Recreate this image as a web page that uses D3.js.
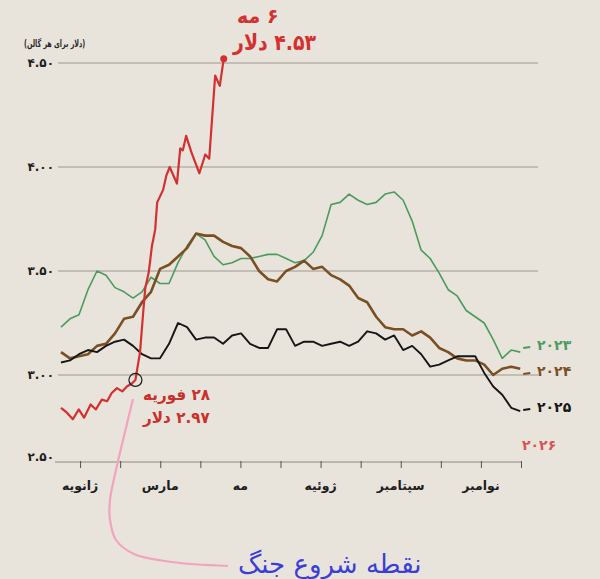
<!DOCTYPE html>
<html><head><meta charset="utf-8">
<script src="https://cdn.jsdelivr.net/npm/d3@7/dist/d3.min.js"></script>
<style>
html,body{margin:0;padding:0;background:#e8e4dc;}
svg{display:block;}
text{font-family:"DejaVu Sans","Noto Sans",sans-serif;}
</style></head><body>
<svg id="chart" width="600" height="579"></svg>
<script>
// ---- data ----
const yTickValues = [2.5, 3.0, 3.5, 4.0, 4.5];
const yTickLabels = ["۲.۵۰", "۳.۰۰", "۳.۵۰", "۴.۰۰", "۴.۵۰"];
const monthLabels = ["ژانویه", "", "مارس", "", "مه", "", "ژوئیه", "", "سپتامبر", "", "نوامبر", ""];
const seriesNames = ["۲۰۲۳", "۲۰۲۴", "۲۰۲۵", "۲۰۲۶"];
const prices2023 = [3.23,3.27,3.29,3.41,3.50,3.48,3.42,3.40,3.37,3.40,3.47,3.44,3.44,3.54,3.62,3.68,3.65,3.57,3.53,3.54,
  3.56,3.56,3.57,3.58,3.58,3.56,3.54,3.55,3.59,3.67,3.82,3.83,3.87,3.84,3.82,3.83,3.87,3.88,3.84,3.74,
  3.60,3.56,3.49,3.41,3.38,3.31,3.28,3.25,3.17,3.08,3.12,3.11];
const prices2024 = [3.11,3.08,3.09,3.10,3.14,3.15,3.20,3.27,3.28,3.35,3.40,3.51,3.53,3.57,3.61,3.68,3.67,3.67,3.64,3.62,
  3.61,3.57,3.50,3.46,3.45,3.50,3.52,3.55,3.51,3.52,3.48,3.46,3.43,3.37,3.35,3.28,3.23,3.22,3.22,3.19,
  3.21,3.18,3.13,3.11,3.08,3.07,3.07,3.05,3.00,3.03,3.04,3.03];
const prices2025 = [3.06,3.07,3.10,3.12,3.11,3.14,3.16,3.17,3.14,3.10,3.08,3.08,3.15,3.25,3.23,3.17,3.18,3.18,3.15,3.19,
  3.20,3.15,3.13,3.13,3.22,3.22,3.14,3.16,3.16,3.14,3.15,3.16,3.14,3.16,3.21,3.20,3.17,3.19,3.12,3.14,
  3.10,3.04,3.05,3.07,3.09,3.09,3.09,3.01,2.93,2.88,2.80,2.78];
const days2026 = [1.5,6,10.5,15,19,24,28,32.5,36.5,40,44,48,51.5,55.5,58,61.5,64,65.5,68,69,70.5,71.5,73,74.5,79,81.5,84,
  89.5,92,94,96.5,100.5,106.5,111,114,118.5,122,125];
const prices2026 = [2.80,2.77,2.73,2.79,2.74,2.82,2.79,2.85,2.84,2.89,2.92,2.90,2.93,2.95,2.97,3.11,3.31,3.42,3.49,3.54,
  3.62,3.65,3.70,3.83,3.89,3.96,4.00,3.92,4.09,4.08,4.15,4.07,3.97,4.06,4.04,4.44,4.39,4.52];
const fullYearFirstDay = 1.5, fullYearLastDay = 350;

// ---- scales ----
const svg = d3.select("#chart");
const x = d3.scaleLinear().domain([0, 365]).range([59, 540]);
const y = d3.scaleLinear().domain([2.5, 3, 4.5]).range([457, 375, 63]);
const dayOf = d3.scaleLinear().domain([0, 51]).range([fullYearFirstDay, fullYearLastDay]);
const tickDays = d3.range(12).map(i => 16 + i * 365 / 12);

const colors = ["#4c9a5e", "#7b4f24", "#161616", "#d3302f"];
const widths = [1.6, 2.6, 1.9, 2.2];

// helper: right-to-left text whose LEFT edge is at x0 (optionally condensed)
function rtlText(x0, y0, str, size, fill, sx, weight) {
  const g = svg.append("g").attr("transform", `translate(${x0},${y0}) scale(${sx},1)`);
  g.append("text").attr("x", 0).attr("y", 0).attr("dy", "0.35em")
    .attr("direction", "rtl").attr("text-anchor", "end")
    .attr("font-weight", weight || "bold").attr("font-size", size).attr("fill", fill).text(str);
  return g;
}

// gridlines
svg.append("g").selectAll("line").data(yTickValues.slice(1)).join("line")
  .attr("x1", 58).attr("x2", 538)
  .attr("y1", d => y(d)).attr("y2", d => y(d))
  .attr("stroke", "#b6b2a9").attr("stroke-width", 1.4);

// y labels
svg.append("g").selectAll("text").data(yTickValues).join("text")
  .attr("x", 54).attr("y", d => y(d)).attr("dy", "0.35em")
  .attr("text-anchor", "end").attr("font-weight", "bold").attr("font-size", 12)
  .attr("fill", "#1c1c1c").text((d, i) => yTickLabels[i]);

// unit label
rtlText(24, 43, "(دلار برای هر گالن)", 10, "#2a2a2a", 0.64);

// x axis
const axisY = y(2.5) + 5;
const xAxis = d3.axisBottom(x).tickValues(tickDays).tickSize(6).tickFormat("");
const gx = svg.append("g").attr("transform", `translate(0,${axisY})`).call(xAxis);
gx.select(".domain").attr("d", `M55,0H522`).attr("stroke", "#8d8980").attr("stroke-width", 1.2);
gx.selectAll(".tick line").attr("stroke", "#55524d").attr("y1", -1);
svg.append("g").selectAll("text").data(tickDays.filter((d, i) => monthLabels[i])).join("text")
  .attr("x", d => x(d)).attr("y", axisY + 24).attr("dy", "0.35em")
  .attr("direction", "rtl")
  .attr("text-anchor", "middle").attr("font-weight", "bold").attr("font-size", 12.5)
  .attr("fill", "#1c1c1c").text((d, i) => monthLabels.filter(m => m)[i]);

// lines
const line = d3.line().x(d => x(d[0])).y(d => y(d[1]));
const full = [prices2023, prices2024, prices2025].map(arr => arr.map((v, i) => [dayOf(i), v]));
const red = days2026.map((d, i) => [d, prices2026[i]]);
const all = [...full, red];
svg.append("g").selectAll("path").data(all).join("path")
  .attr("d", line).attr("fill", "none")
  .attr("stroke", (d, i) => colors[i]).attr("stroke-width", (d, i) => widths[i])
  .attr("stroke-linejoin", "round");

// end dot for 2026
const last = red[red.length - 1];
svg.append("circle").attr("cx", x(last[0])).attr("cy", y(last[1])).attr("r", 3.5).attr("fill", colors[3]);

// series labels
const labelY = [345, 371, 407, 445];
full.forEach((s, i) => {
  const e = s[s.length - 1];
  svg.append("line").attr("x1", x(e[0]) + 3).attr("x2", x(e[0]) + 10)
    .attr("y1", labelY[i] + 3).attr("y2", labelY[i] + 2)
    .attr("stroke", colors[i]).attr("stroke-width", 2.2);
});
svg.append("g").selectAll("text").data(seriesNames).join("text")
  .attr("x", (d, i) => i === 3 ? 522 : 537).attr("y", (d, i) => labelY[i]).attr("dy", "0.35em")
  .attr("font-weight", "bold").attr("font-size", 14)
  .attr("fill", (d, i) => i === 3 ? "#d9534f" : colors[i]).text(d => d);

// Feb 28 marker
const feb = red[14];
svg.append("circle").attr("cx", x(feb[0])).attr("cy", y(feb[1])).attr("r", 6.5)
  .attr("fill", "none").attr("stroke", "#1a1a1a").attr("stroke-width", 1.2);
rtlText(143, 394, "۲۸ فوریه", 16, "#c9302c", 0.95);
rtlText(143, 417, "۲.۹۷ دلار", 16, "#c9302c", 0.95);

// May 6 annotation
rtlText(237, 16, "۶ مه", 20, "#d3302f", 0.95);
rtlText(233, 42, "۴.۵۳ دلار", 22, "#d3302f", 0.86);

// war start callout
const curvePts = [[133, 399], [124, 436], [116, 470], [110, 500], [110, 520], [116, 540], [134, 554], [172, 562], [228, 566]];
svg.append("path").attr("d", d3.line().curve(d3.curveCatmullRom)(curvePts))
  .attr("fill", "none").attr("stroke", "#f4a3bd").attr("stroke-width", 2.2);
rtlText(238, 564, "نقطه شروع جنگ", 26, "#3b3ed6", 1, "normal");
</script>
</body></html>
